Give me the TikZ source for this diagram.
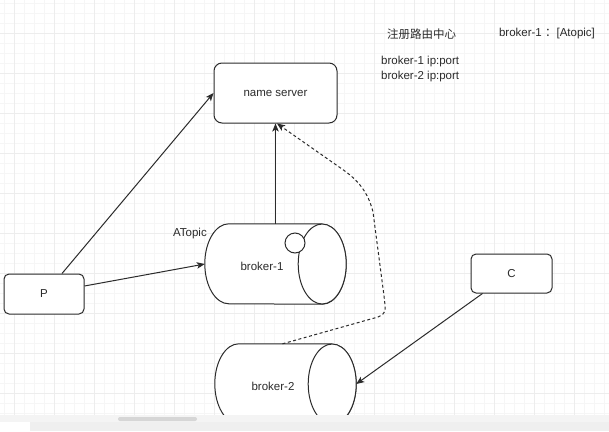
\documentclass[tikz,border=0pt]{standalone}
\usepackage{fontspec}
\setmainfont{Liberation Sans}
\newfontfamily\cjk{Noto Sans CJK SC}
\usetikzlibrary{arrows,arrows.meta}
\definecolor{inkgray}{HTML}{2B2B2B}
\definecolor{gridminor}{HTML}{F6F6F6}
\definecolor{gridmajor}{HTML}{EDEDED}
\definecolor{barlight}{HTML}{F4F4F4}
\definecolor{bardark}{HTML}{EFEFEF}
\definecolor{scrollgray}{HTML}{D6D6D6}
\tikzset{>={Stealth[length=8pt,width=6.5pt,inset=2pt]}}
\tikzstyle{arrow} = [line width=1pt,->,draw=inkgray]
\tikzstyle{box} = [draw=inkgray, line width=1pt, rounded corners=8pt, fill=white, text=inkgray]
\tikzstyle{broker} = [minimum width=141pt, minimum height=80pt, inner sep=0pt]
\tikzstyle{cyl} = [draw=inkgray, line width=1pt, fill=white]
\tikzstyle{note} = [text=inkgray, inner sep=0pt]

\begin{document}
\begin{tikzpicture}[x=1pt, y=-1pt, font=\fontsize{11.5}{15}\selectfont]

\useasboundingbox (0,0) rectangle (609,431);
\fill[white] (0,0) rectangle (609,431);

\foreach \gx in {4,14,...,604}
  \draw[gridminor, line width=0.5pt] (\gx,0) -- (\gx,415);
\foreach \gy in {3,13,...,413}
  \draw[gridminor, line width=0.5pt] (0,\gy) -- (609,\gy);
\foreach \gx in {14,54,...,594}
  \draw[gridmajor, line width=0.6pt] (\gx,0) -- (\gx,415);
\foreach \gy in {33,73,...,393}
  \draw[gridmajor, line width=0.6pt] (0,\gy) -- (609,\gy);

\node [box, minimum width=123pt, minimum height=60pt] (ns) at (275.5,93) {name server};
\node [box, rounded corners=5pt, minimum width=80pt, minimum height=40pt] (p) at (44,294) {P};
\node [box, rounded corners=5pt, minimum width=81pt, minimum height=39pt] (c) at (511.5,273.5) {C};

\node [broker] (b1) at (275.5,264) {};
\node [broker] (b2) at (285.5,384) {};
\foreach \b in {b1,b2} {
  \filldraw [cyl] ([xshift=-24pt]\b.north east) -- ([xshift=24pt]\b.north west)
    arc [start angle=270, end angle=90, x radius=24, y radius=40]
    -- ([xshift=-24pt]\b.south east)
    arc [start angle=90, end angle=-90, x radius=24, y radius=40];
  \draw [cyl] ([xshift=-24pt]\b.east) ellipse [x radius=24, y radius=40];
}
\node [note] (b1-text) at (262,266) {broker-1};
\node [note] (b2-text) at (273,386) {broker-2};
\node [circle, draw=inkgray, line width=1pt, fill=white, minimum size=20pt, inner sep=0pt] (topic) at (295,243) {};
\node [note, anchor=east] (atopic) at (207,234) {ATopic};

\draw [arrow] ([xshift=18pt]p.north) -- (ns.west);
\draw [arrow] ([yshift=8pt]p.east) -- (b1.west);
\draw [arrow] (b1.north) -- (ns.south);
\draw [arrow] ([xshift=12pt]c.south west) -- (b2.east);
\draw [arrow, dash pattern=on 3pt off 2.5pt] ([xshift=-3pt]b2.north) -- (378,317)
  .. controls (386,313) .. (384,296) -- (373,212)
  .. controls (368,192) and (358,180) .. (342,169) -- ([xshift=1.5pt]ns.south);

\node [note] (title) at (421.5,34) {\cjk 注册路由中心};
\node [note] (route) at (547,34) {broker-1 {\cjk ：}[Atopic]};
\node [note, anchor=west, align=left] (list) at (381,69.5) {broker-1 ip:port\\broker-2 ip:port};

\fill[barlight] (0,415) rectangle (609,422);
\fill[bardark] (0,422) rectangle (609,431);
\fill[white] (0,422) rectangle (30,431);
\fill[scrollgray, rounded corners=2pt] (118,417) rectangle (197,421);

\end{tikzpicture}
\end{document}
